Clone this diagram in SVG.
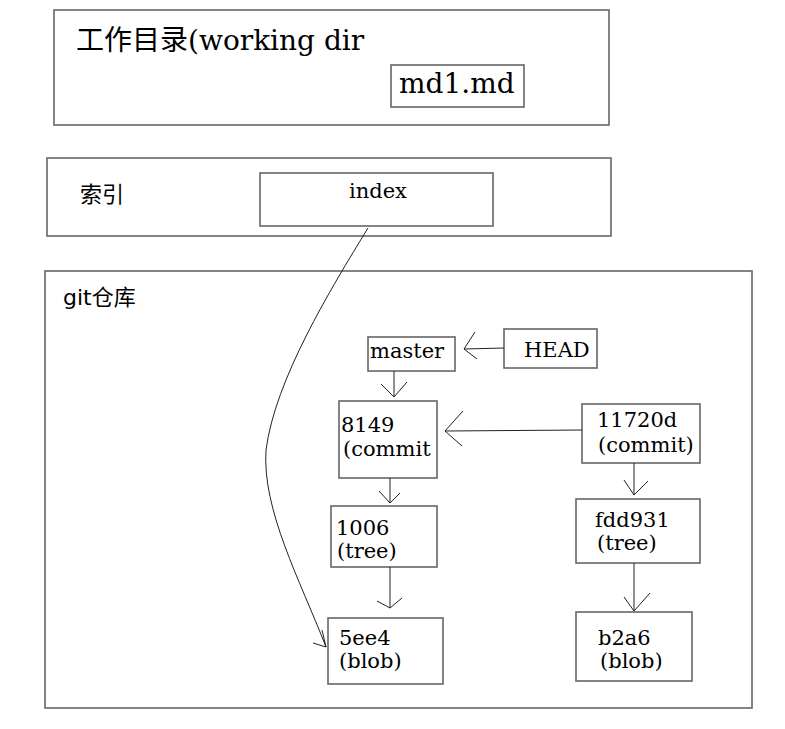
<svg xmlns="http://www.w3.org/2000/svg" width="785" height="729" viewBox="0 0 785 729">
<style>
.box{fill:#fff;stroke:#666;stroke-width:1.6}
.serif{font-family:"DejaVu Serif","Noto Sans CJK SC",serif;fill:#000}
.sans{font-family:"DejaVu Sans","Noto Sans CJK SC",sans-serif;fill:#000}
.t{font-size:21px}
.c{fill:none;stroke:#222;stroke-width:1}
</style>
<rect width="785" height="729" fill="#fff"/>
<g id="workdir">
<rect class="box" x="54" y="10" width="555" height="115"/>
<text class="serif" x="76" y="50" font-size="28">工作目录(working dir</text>
</g>
<g id="md1">
<rect class="box" x="391" y="65" width="133" height="42"/>
<text class="serif" x="399" y="93" font-size="28">md1.md</text>
</g>
<g id="indexArea">
<rect class="box" x="47" y="158" width="564" height="78"/>
<text class="sans" x="80" y="202" font-size="22">索引</text>
</g>
<g id="index">
<rect class="box" x="260" y="173" width="233" height="53"/>
<text class="serif t" x="349" y="198">index</text>
</g>
<g id="repo">
<rect class="box" x="45" y="271" width="707" height="437"/>
<text class="sans" x="63" y="305" font-size="22">git仓库</text>
</g>
<g id="master">
<rect class="box" x="368" y="337" width="87" height="34"/>
<text class="serif t" x="370" y="358">master</text>
</g>
<g id="head">
<rect class="box" x="504" y="329" width="93" height="39"/>
<text class="serif t" x="524" y="357">HEAD</text>
</g>
<g id="c8149">
<rect class="box" x="339" y="401" width="98" height="77"/>
<text class="serif t" x="341" y="432">8149</text>
<text class="serif t" x="343" y="456">(commit</text>
</g>
<g id="c11720d">
<rect class="box" x="582" y="404" width="118" height="59"/>
<text class="serif t" x="597" y="427">11720d</text>
<text class="serif t" x="598" y="452">(commit)</text>
</g>
<g id="t1006">
<rect class="box" x="331" y="506" width="106" height="61"/>
<text class="serif t" x="336" y="535">1006</text>
<text class="serif t" x="337" y="558">(tree)</text>
</g>
<g id="tfdd931">
<rect class="box" x="576" y="499" width="124" height="64"/>
<text class="serif t" x="595" y="527">fdd931</text>
<text class="serif t" x="597" y="550">(tree)</text>
</g>
<g id="b5ee4">
<rect class="box" x="328" y="618" width="115" height="66"/>
<text class="serif t" x="339" y="645">5ee4</text>
<text class="serif t" x="339" y="668">(blob)</text>
</g>
<g id="bb2a6">
<rect class="box" x="576" y="612" width="116" height="69"/>
<text class="serif t" x="598" y="645">b2a6</text>
<text class="serif t" x="600" y="668">(blob)</text>
</g>
<g id="connectors">
<path class="c" d="M504,348 L464,349 M475,332 L464,349 L477,359"/>
<path class="c" d="M394,371 L394,397 M381,384 L394,397 L407,382"/>
<path class="c" d="M582,430 L445,431 M463,411 L445,431 L462,446"/>
<path class="c" d="M390,478 L390,503 M379,491 L390,503 L400,493"/>
<path class="c" d="M390,567 L390,608 M377,601 L390,608 L402,598"/>
<path class="c" d="M634,463 L634,495 M624,480 L634,495 L648,481"/>
<path class="c" d="M634,563 L634,611 M624,597 L634,611 L650,593"/>
<path class="c" d="M368,228 C330,290 275,380 266,450 C262,510 300,580 326,647 M313,643 L326,647 M322,630 L326,647"/>
</g>
</svg>
